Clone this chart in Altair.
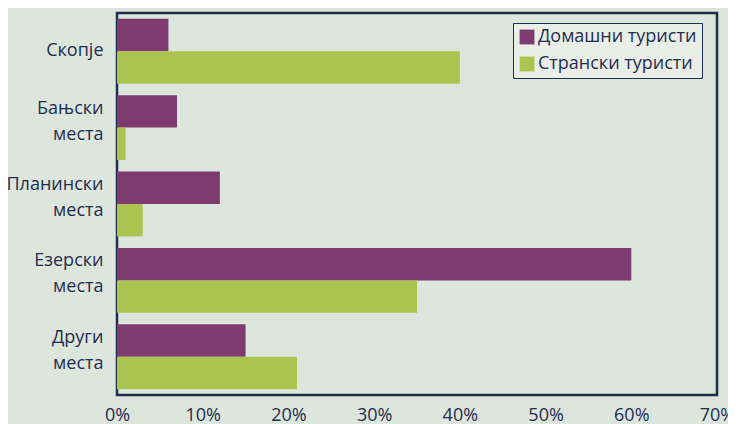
import altair as alt
import pandas as pd

categories = ["Скопје", "Бањски места", "Планински места", "Езерски места", "Други места"]
series = ["Домашни туристи", "Странски туристи"]
domestic = [6, 7, 12, 60, 15]
foreign = [40, 1, 3, 35, 21]

rows = []
for c, d, f in zip(categories, domestic, foreign):
    rows.append({"cat": c, "series": series[0], "value": d / 100})
    rows.append({"cat": c, "series": series[1], "value": f / 100})
df = pd.DataFrame(rows)

navy = "#1f2d4f"
font = "Open Sans"
fs = 18

chart = alt.Chart(df).mark_bar().encode(
    y=alt.Y("cat:N", sort=categories, title=None,
            scale=alt.Scale(paddingInner=0.15, paddingOuter=0.075),
            axis=alt.Axis(labelExpr="split(datum.label, ' ')", labelFontSize=fs,
                          labelColor=navy, labelFont=font, labelLineHeight=26,
                          labelOffset={"condition": {"test": "indexof(datum.label, ' ') >= 0", "value": -19}, "value": 0},
                          ticks=False, domain=False, labelPadding=14, labelLimit=200)),
    yOffset=alt.YOffset("series:N", sort=series),
    x=alt.X("value:Q", title=None,
            scale=alt.Scale(domain=[0, 0.7], nice=False),
            axis=alt.Axis(format=".0%", values=[0, .1, .2, .3, .4, .5, .6, .7],
                          labelFontSize=fs, labelColor=navy, labelFont=font,
                          ticks=False, domain=False, grid=False, labelPadding=11,
                          labelFlush=False)),
    color=alt.Color("series:N", sort=series,
                    scale=alt.Scale(domain=series, range=["#7f3b70", "#abc34f"]),
                    legend=alt.Legend(title=None, orient="none", legendX=396, legendY=10,
                                      symbolType="square", symbolSize=220,
                                      labelFontSize=fs, labelFont=font, labelColor=navy,
                                      fillColor="#e9efe7", strokeColor=navy,
                                      padding=5, rowPadding=9, symbolOffset=0,
                                      labelOffset=2)),
).properties(
    width=600, height=382,
    background="#dce6dc",
    padding={"left": 109, "top": 5, "right": 11, "bottom": 29},
    autosize=alt.AutoSizeParams(type="none"),
).configure_view(
    stroke=navy, strokeWidth=2.5, fill="#dce6dc"
)

chart.save("out.html", embed_options={"renderer": "svg", "actions": False})
